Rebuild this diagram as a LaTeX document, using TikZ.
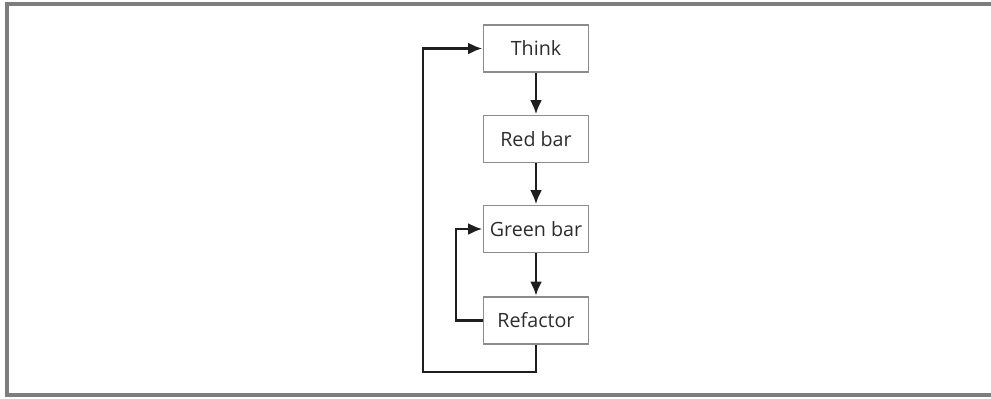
\documentclass[tikz,border=0pt]{standalone}
\usepackage{fontspec}
\setmainfont{Open Sans}
\usepackage{tikz}
\usetikzlibrary{arrows.meta}

\definecolor{framegray}{RGB}{125,125,125}
\definecolor{boxgray}{RGB}{140,140,140}
\definecolor{textgray}{RGB}{45,45,45}
\definecolor{linegray}{RGB}{30,30,30}

\tikzset{
	stepbox/.style={draw=boxgray,line width=1.4pt,minimum width=2.625cm,minimum height=1.175cm,
		text=textgray,font=\fontsize{14}{16}\selectfont,inner sep=0pt},
	flow/.style={-{Latex[length=3.6mm,width=3mm]},line width=2pt,draw=linegray}
}

\begin{document}
\begin{tikzpicture}
	\useasboundingbox (0,0) rectangle (24.775,-9.95);
	
	%frame (open on the right)
	\draw[framegray,line width=2.2pt] (24.9,-0.1)--(0.175,-0.1)--(0.175,-9.875)--(24.9,-9.875);
	
	%boxes
	\node[stepbox] (think) at (13.4,-1.2125) {Think};
	\node[stepbox] (red) at (13.4,-3.475) {Red bar};
	\node[stepbox] (green) at (13.4,-5.725) {Green bar};
	\node[stepbox] (refactor) at (13.4,-8.0125) {Refactor};
	
	%loop corners
	\coordinate (outer) at (10.575,-9.3);	%outer loop, lower-left
	\coordinate (inner) at (11.4,-8.0125);	%inner loop, lower-left
	
	%straight arrows
	\draw[flow] (think)--(red);
	\draw[flow] (red)--(green);
	\draw[flow] (green)--(refactor);
	
	%back arrows
	\draw[flow] (refactor.south) |- (outer) |- (think.west);	%outer: back to Think
	\draw[flow] (refactor.west)--(inner) |- (green.west);		%inner: back to Green bar
\end{tikzpicture}
\end{document}
